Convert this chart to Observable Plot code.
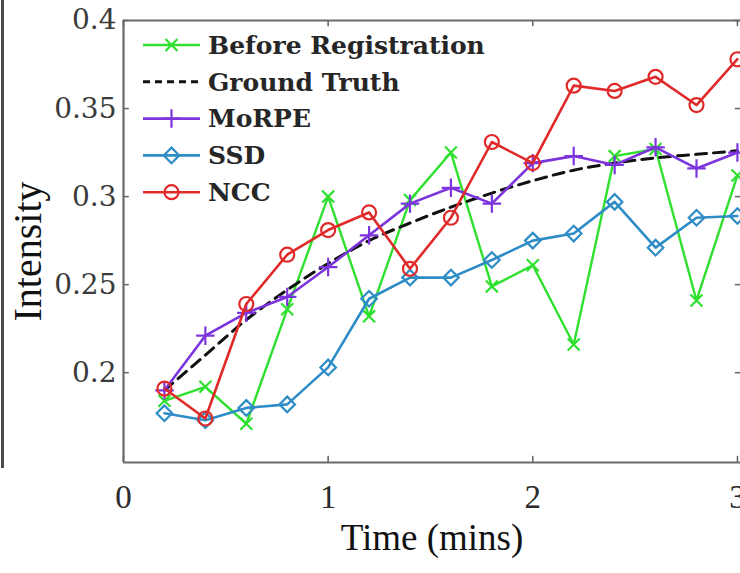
<!DOCTYPE html>
<html>
<head>
<meta charset="utf-8">
<script src="https://cdn.jsdelivr.net/npm/d3@7"></script>
<script src="https://cdn.jsdelivr.net/npm/@observablehq/plot@0.6"></script>
<style>
  html, body { margin: 0; padding: 0; background: #fff; }
  #wrap { position: relative; width: 740px; height: 573px; overflow: hidden; }
  #edge { position: absolute; left: 1px; top: 0; width: 3px; height: 468px; background: #4a4a4a; }
  #chart svg { display: block; }
</style>
</head>
<body>
<div id="wrap">
  <div id="chart"></div>
  <div id="edge"></div>
</div>
<script>
// Sampling times (minutes)
const times = [0.2, 0.4, 0.6, 0.8, 1.0, 1.2, 1.4, 1.6, 1.8, 2.0, 2.2, 2.4, 2.6, 2.8, 3.0];

// Mean intensity curves
const beforeRegistration = [0.184, 0.192, 0.171, 0.236, 0.300, 0.232, 0.298, 0.325, 0.249, 0.261, 0.216, 0.323, 0.327, 0.241, 0.312];
const groundTruth        = [0.190, 0.210, 0.230, 0.247, 0.262, 0.275, 0.285, 0.294, 0.302, 0.309, 0.315, 0.319, 0.322, 0.324, 0.326];
const morpe              = [0.190, 0.221, 0.234, 0.243, 0.260, 0.278, 0.296, 0.305, 0.296, 0.319, 0.323, 0.318, 0.328, 0.316, 0.325];
const ssd                = [0.177, 0.173, 0.180, 0.182, 0.203, 0.242, 0.254, 0.254, 0.264, 0.275, 0.279, 0.297, 0.271, 0.288, 0.289];
const ncc                = [0.191, 0.174, 0.239, 0.267, 0.281, 0.291, 0.259, 0.288, 0.331, 0.319, 0.363, 0.360, 0.368, 0.352, 0.378];

// Series names, legend order
const seriesNames = ["Before Registration", "Ground Truth", "MoRPE", "SSD", "NCC"];

// Axis ticks
const xTicks = [0, 1, 2, 3];
const xTickLabels = ["0", "1", "2", "3"];
const yTicks = [0.2, 0.25, 0.3, 0.35, 0.4];
const yTickLabels = ["0.2", "0.25", "0.3", "0.35", "0.4"];

const xDomain = [0, 3.015];
const yDomain = [0.149, 0.4];

const styles = {
  "Before Registration": {color: "#2fe02f", symbol: "times", r: 5.5, dash: null, width: 2.4},
  "Ground Truth":        {color: "#111111", symbol: null, r: 0, dash: "11,7", width: 3},
  "MoRPE":               {color: "#7c34dc", symbol: "plus", r: 6, dash: null, width: 2.6},
  "SSD":                 {color: "#2e8cc6", symbol: "diamond2", r: 7, dash: null, width: 2.6},
  "NCC":                 {color: "#e02a2a", symbol: "circle", r: 7, dash: null, width: 2.6}
};

const valuesBySeries = {
  "Before Registration": beforeRegistration,
  "Ground Truth": groundTruth,
  "MoRPE": morpe,
  "SSD": ssd,
  "NCC": ncc
};

const table = name => times.map((t, i) => ({time: t, value: valuesBySeries[name][i], series: name}));

const seriesMarks = seriesNames.flatMap(name => {
  const s = styles[name];
  const data = table(name);
  const marks = [
    Plot.line(data, {
      x: "time", y: "value",
      stroke: s.color, strokeWidth: s.width,
      strokeDasharray: s.dash,
      curve: name === "Ground Truth" ? "monotone-x" : "linear"
    })
  ];
  if (s.symbol) {
    marks.push(Plot.dot(data, {
      x: "time", y: "value",
      symbol: s.symbol, r: s.r,
      stroke: s.color, strokeWidth: 2.2, fill: "none"
    }));
  }
  return marks;
});

const frameColor = "#6a6a6a";

const chart = Plot.plot({
  width: 740,
  height: 573,
  marginLeft: 123,
  marginRight: 0,
  marginTop: 20,
  marginBottom: 111,
  x: {domain: xDomain, axis: null},
  y: {domain: yDomain, axis: null},
  marks: [
    // inward ticks on all four sides
    Plot.ruleY(yTicks, {x1: 0, x2: 0.028, stroke: frameColor, strokeWidth: 1.6}),
    Plot.ruleY(yTicks, {x1: xDomain[1] - 0.025, x2: xDomain[1], stroke: frameColor, strokeWidth: 1.6}),
    Plot.ruleX(xTicks, {y1: yDomain[0], y2: yDomain[0] + 0.0035, stroke: frameColor, strokeWidth: 1.6}),
    Plot.ruleX(xTicks, {y1: yDomain[1], y2: yDomain[1] - 0.0035, stroke: frameColor, strokeWidth: 1.6}),
    ...seriesMarks,
    // axis box
    Plot.ruleX([0], {stroke: frameColor, strokeWidth: 2.2}),
    Plot.ruleY([yDomain[0], yDomain[1]], {stroke: frameColor, strokeWidth: 2.2}),
    Plot.axisY({
      ticks: yTicks, tickSize: 0, tickPadding: 7, label: null,
      tickFormat: (d, i) => yTickLabels[i],
      fontFamily: "DejaVu Serif", fontSize: 28, fill: "#3a3a3a"
    }),
    Plot.axisX({
      ticks: xTicks, tickSize: 0, tickPadding: 22, label: null,
      tickFormat: (d, i) => xTickLabels[i],
      fontFamily: "Liberation Serif", fontSize: 33, fill: "#2a2a2a"
    }),
    Plot.text(["Time (mins)"], {
      frameAnchor: "bottom", dy: 87, text: d => d,
      fontFamily: "Liberation Serif", fontSize: 37, fill: "#111"
    }),
    Plot.text(["Intensity"], {
      frameAnchor: "left", textAnchor: "middle", dx: -95, dy: 10, rotate: -90, text: d => d,
      fontFamily: "Liberation Serif", fontSize: 40, fill: "#111"
    })
  ]
});

document.getElementById("chart").appendChild(chart);

// Legend in the upper-left corner of the axes
const symbolTypes = {
  circle: d3.symbolCircle, diamond2: d3.symbolDiamond2,
  plus: d3.symbolPlus, times: d3.symbolTimes
};
const legend = d3.select(chart).append("g").attr("class", "legend");
const legendX0 = 143, legendX1 = 200, legendTop = 45, legendStep = 36.8;
seriesNames.forEach((name, i) => {
  const s = styles[name];
  const y = legendTop + i * legendStep;
  const g = legend.append("g").attr("transform", `translate(0,${y})`);
  g.append("line")
    .attr("x1", legendX0).attr("x2", legendX1)
    .attr("stroke", s.color).attr("stroke-width", s.width)
    .attr("stroke-dasharray", s.dash ? "7,5" : null);
  if (s.symbol) {
    g.append("path")
      .attr("transform", `translate(${(legendX0 + legendX1) / 2},0)`)
      .attr("d", d3.symbol(symbolTypes[s.symbol], Math.PI * s.r * s.r)())
      .attr("fill", "none").attr("stroke", s.color).attr("stroke-width", 2.2);
  }
  g.append("text")
    .attr("x", 208).attr("dy", "0.35em")
    .attr("text-anchor", "start")
    .attr("font-family", "DejaVu Serif").attr("font-weight", "bold")
    .attr("font-size", 25).attr("fill", "#262626")
    .text(name);
});
</script>
</body>
</html>
